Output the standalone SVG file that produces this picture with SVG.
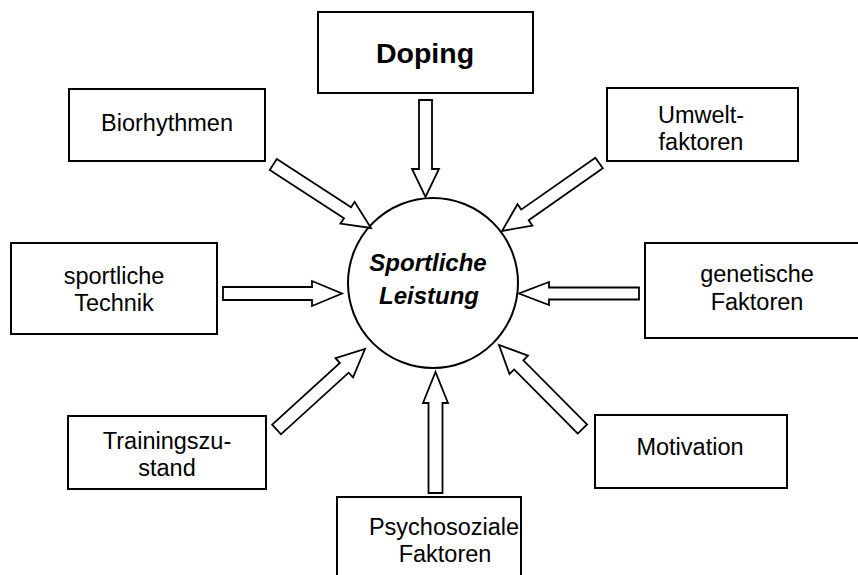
<svg xmlns="http://www.w3.org/2000/svg" width="858" height="575" viewBox="0 0 858 575">
<defs>
<style>
.box{fill:#fff;stroke:#000;stroke-width:2}
.t{font-family:"Liberation Sans",Arial,sans-serif;font-size:23.5px;text-anchor:middle;fill:#000}
.arr{fill:#fff;stroke:#000;stroke-width:1.8;stroke-linejoin:miter}
</style>
</defs>
<rect width="858" height="575" fill="#fff"/>
<g id="center">
<circle cx="433" cy="283" r="85" fill="#fff" stroke="#000" stroke-width="2"/>
<text x="428" y="271" class="t" style="font-weight:bold;font-style:italic;font-size:24px">Sportliche</text>
<text x="429" y="304" class="t" style="font-weight:bold;font-style:italic;font-size:24px">Leistung</text>
</g>
<g id="doping">
<rect class="box" x="318" y="12" width="215" height="81"/>
<text x="425" y="63" class="t" style="font-weight:bold;font-size:28.5px">Doping</text>
</g>
<g id="biorhythmen">
<rect class="box" x="69" y="89" width="196" height="72"/>
<text x="167" y="131" class="t">Biorhythmen</text>
</g>
<g id="umwelt">
<rect class="box" x="607" y="88" width="191" height="73"/>
<text x="701" y="123" class="t">Umwelt-</text>
<text x="701" y="150" class="t">faktoren</text>
</g>
<g id="technik">
<rect class="box" x="11" y="243" width="206" height="91"/>
<text x="114" y="284" class="t">sportliche</text>
<text x="114" y="311" class="t">Technik</text>
</g>
<g id="genetische">
<rect class="box" x="645" y="243" width="224" height="95"/>
<text x="757" y="282" class="t">genetische</text>
<text x="757" y="310" class="t">Faktoren</text>
</g>
<g id="training">
<rect class="box" x="68" y="416" width="198" height="73"/>
<text x="167" y="449" class="t">Trainingszu-</text>
<text x="167" y="476" class="t">stand</text>
</g>
<g id="motivation">
<rect class="box" x="595" y="415" width="192" height="73"/>
<text x="690" y="455" class="t">Motivation</text>
</g>
<g id="psycho">
<rect class="box" x="337" y="497" width="184" height="100"/>
<text x="444" y="535" class="t">Psychosoziale</text>
<text x="445" y="562" class="t">Faktoren</text>
</g>
<g id="connectors">
<polygon class="arr" transform="translate(425.5,197) rotate(90)" points="-97,-6.5 -28,-6.5 -28,-13.5 0,0 -28,13.5 -28,6.5 -97,6.5"/>
<polygon class="arr" transform="translate(342,293.5) rotate(0)" points="-119,-6.5 -30,-6.5 -30,-12.5 0,0 -30,12.5 -30,6.5 -119,6.5"/>
<polygon class="arr" transform="translate(519,293.5) rotate(180)" points="-120,-6 -30,-6 -30,-11.5 0,0 -30,11.5 -30,6 -120,6"/>
<polygon class="arr" transform="translate(435.5,372) rotate(-90)" points="-121,-7 -31,-7 -31,-12.5 0,0 -31,12.5 -31,7 -121,7"/>
<polygon class="arr" transform="translate(371,228) rotate(33)" points="-116.5,-6.5 -28,-6.5 -28,-13 0,0 -28,13 -28,6.5 -116.5,6.5"/>
<polygon class="arr" transform="translate(502,231) rotate(145)" points="-118.5,-6.5 -28,-6.5 -28,-13 0,0 -28,13 -28,6.5 -118.5,6.5"/>
<polygon class="arr" transform="translate(365,349) rotate(-42.3)" points="-119.6,-6.5 -28,-6.5 -28,-13 0,0 -28,13 -28,6.5 -119.6,6.5"/>
<polygon class="arr" transform="translate(499,345) rotate(-134.8)" points="-118.4,-6.5 -28,-6.5 -28,-13 0,0 -28,13 -28,6.5 -118.4,6.5"/>
</g>
</svg>
